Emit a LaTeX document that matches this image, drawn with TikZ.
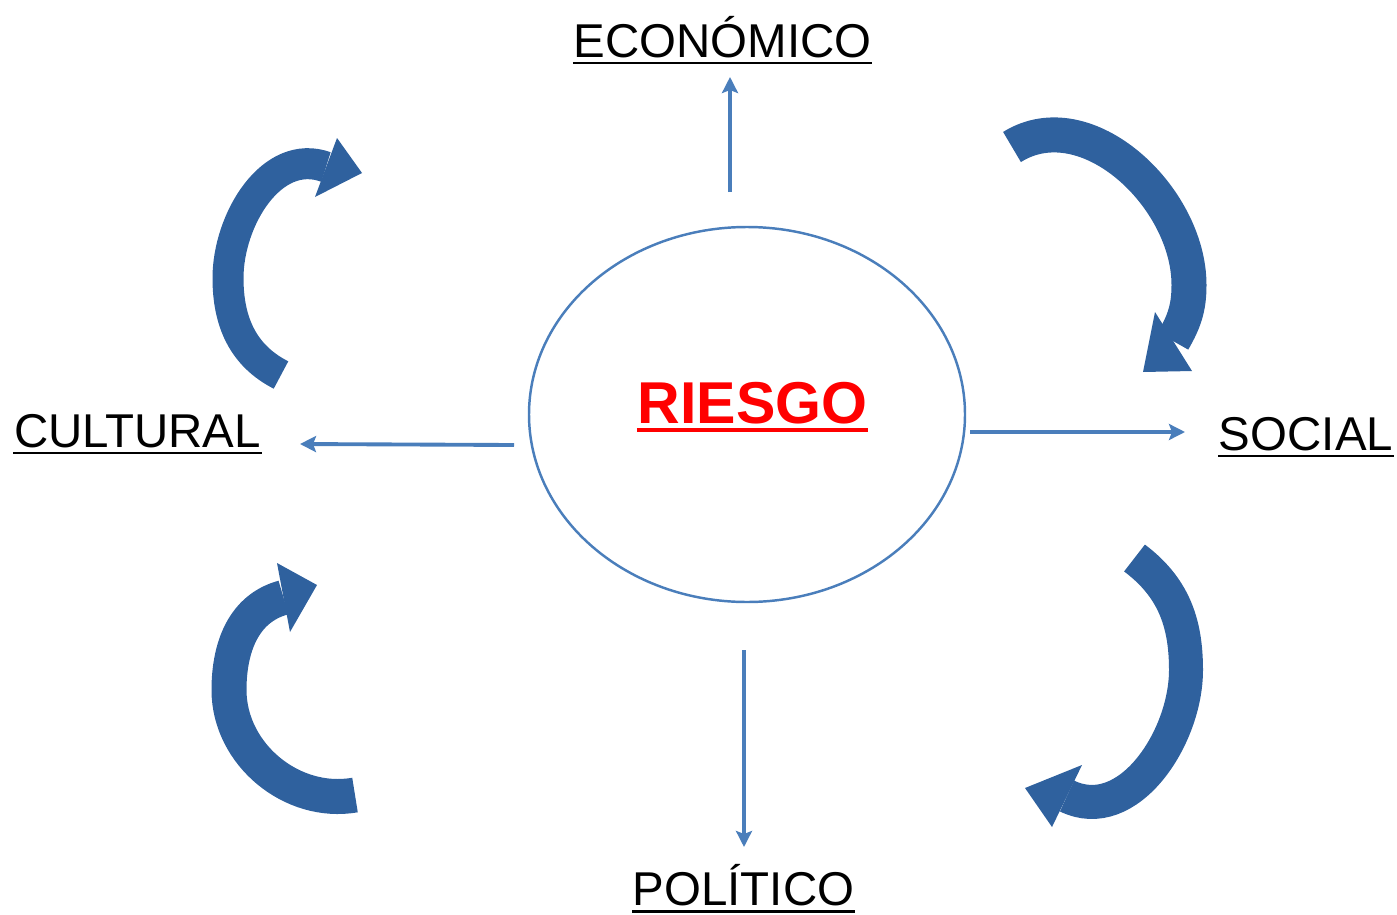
\documentclass[tikz,border=0pt]{standalone}
\usepackage{fontspec}
\setmainfont{Liberation Sans}
\usepackage{tikz}
\usetikzlibrary{shapes.geometric,arrows.meta}

\definecolor{lineblue}{RGB}{74,126,187}
\definecolor{curlblue}{RGB}{47,97,158}

\begin{document}
\begin{tikzpicture}[
	  lbl/.style={inner sep=0,anchor=base,font=\fontsize{13.5}{16}\selectfont},
	  link/.style={draw=lineblue,line width=1.1pt,-{Stealth[length=0.16cm,width=0.16cm,inset=0.03cm]}},
	  uline/.style={line width=0.85pt},
	  curl/.style={draw=curlblue,line width=0.32cm},
	  curlhead/.style={fill=curlblue}
	]
		\useasboundingbox (0,0) rectangle (13.97,-9.15);
		% centre
		\node [draw=lineblue,line width=0.7pt,ellipse,minimum width=4.36cm,minimum height=3.75cm] (circ) at (7.47,-4.145) {};
		\node [inner sep=0,anchor=base,text=red,font=\fontsize{16.8}{20}\selectfont\bfseries] (riesgo) at (7.525,-4.23) {RIESGO};
		\draw [red,line width=1.4pt] ([yshift=-0.07cm]riesgo.base west) -- ([yshift=-0.07cm]riesgo.base east);
		% labels
		\node [lbl] (eco) at (7.225,-0.57) {ECONÓMICO};
		\node [lbl] (cul) at (1.375,-4.47) {CULTURAL};
		\node [lbl] (soc) at (13.06,-4.50) {SOCIAL};
		\node [lbl] (pol) at (7.435,-9.05) {POLÍTICO};
		\foreach \n in {eco,cul,soc,pol} {
			\draw [uline] ([yshift=-0.06cm]\n.base west) -- ([yshift=-0.06cm]\n.base east);
		}
		% straight arrows
		\coordinate (e1) at (7.30,-1.92); \coordinate (e2) at (7.30,-0.77);
		\coordinate (c1) at (5.14,-4.45); \coordinate (c2) at (3.00,-4.44);
		\coordinate (s1) at (9.70,-4.32); \coordinate (s2) at (11.85,-4.32);
		\coordinate (p1) at (7.44,-6.50); \coordinate (p2) at (7.44,-8.47);
		\draw [link] (e1) -- (e2);
		\draw [link] (c1) -- (c2);
		\draw [link] (s1) -- (s2);
		\draw [link] (p1) -- (p2);
		% top left curl
		\coordinate (tla) at (2.81,-3.75);
		\coordinate (tlb) at (2.28,-2.78);
		\coordinate (tlc) at (3.26,-1.67);
		\coordinate (tlx) at (3.37,-1.38);
		\coordinate (tly) at (3.15,-1.97);
		\coordinate (tlt) at (3.62,-1.73);
		\draw [curl,line width=0.31cm] (tla) to[out=153,in=-90] (tlb) to[out=90,in=160] (tlc);
		\fill [curlhead] (tlx) -- (tlt) -- (tly) -- cycle;
		% top right curl
		\coordinate (tra) at (10.12,-1.47);
		\coordinate (trb) at (11.89,-2.85);
		\coordinate (trc) at (11.73,-3.41);
		\coordinate (trx) at (11.55,-3.12);
		\coordinate (try) at (11.92,-3.71);
		\coordinate (trt) at (11.43,-3.72);
		\draw [curl,line width=0.35cm] (tra) to[out=32,in=90] (trb) to[out=-90,in=60] (trc);
		\fill [curlhead] (trx) -- (trt) -- (try) -- cycle;
		% bottom left curl
		\coordinate (bla) at (3.55,-7.95);
		\coordinate (blb) at (2.29,-6.90);
		\coordinate (blc) at (2.835,-5.975);
		\coordinate (blx) at (2.77,-5.63);
		\coordinate (bly) at (2.90,-6.32);
		\coordinate (blt) at (3.17,-5.85);
		\draw [curl,line width=0.35cm] (bla) to[out=190,in=-90] (blb) to[out=90,in=195] (blc);
		\fill [curlhead] (blx) -- (blt) -- (bly) -- cycle;
		% bottom right curl
		\coordinate (bra) at (11.345,-5.58);
		\coordinate (brb) at (11.86,-6.70);
		\coordinate (brc) at (10.67,-7.96);
		\coordinate (brx) at (10.82,-7.65);
		\coordinate (bry) at (10.52,-8.27);
		\coordinate (brt) at (10.25,-7.88);
		\draw [curl,line width=0.34cm] (bra) to[out=-37,in=90] (brb) to[out=-90,in=-26] (brc);
		\fill [curlhead] (brx) -- (brt) -- (bry) -- cycle;
	\end{tikzpicture}
\end{document}
